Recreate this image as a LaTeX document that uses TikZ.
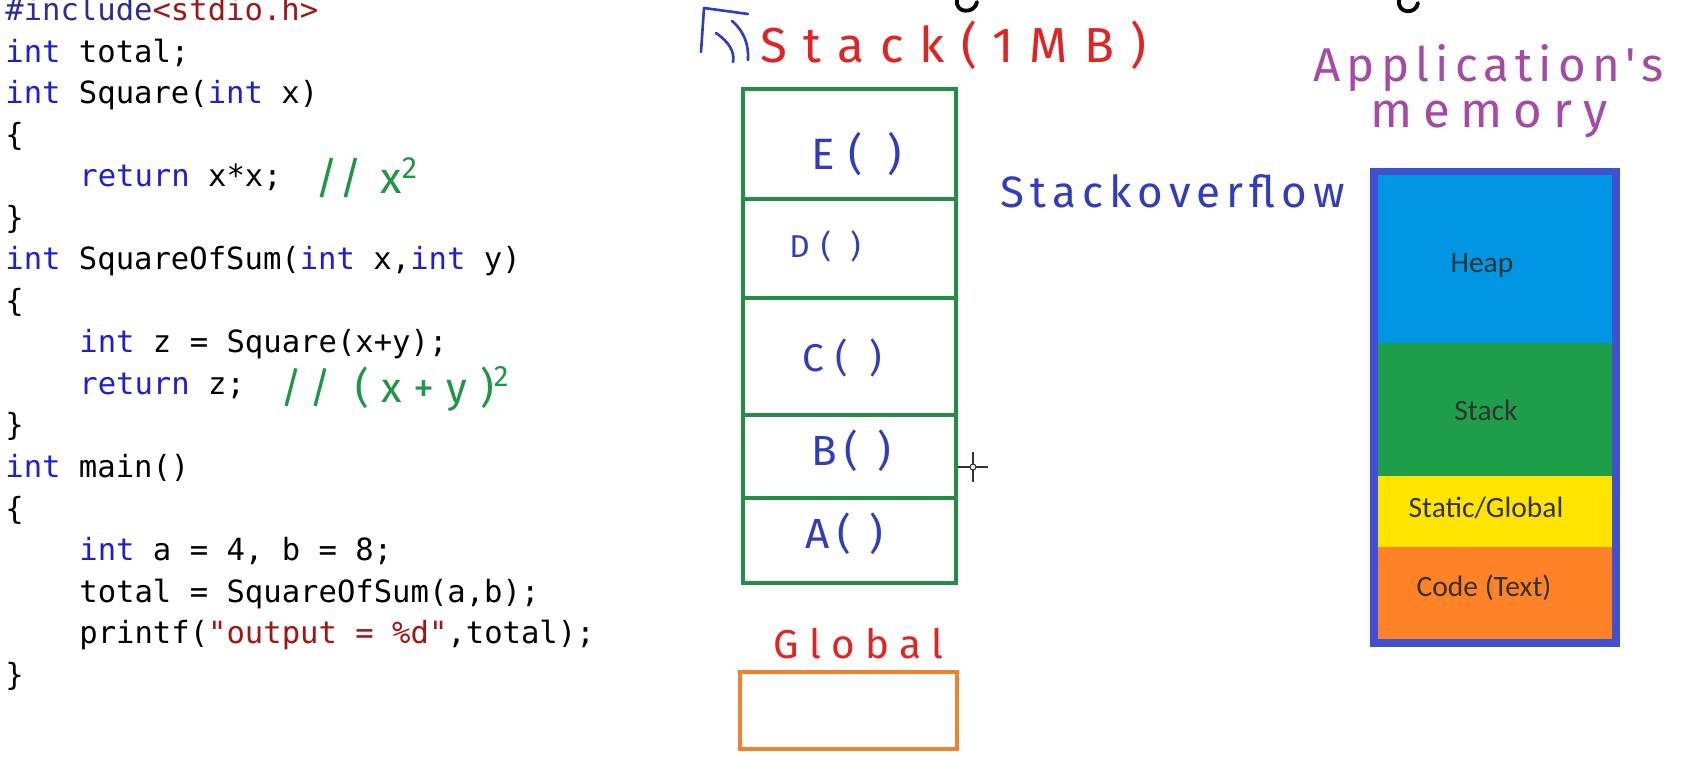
\documentclass[tikz,border=0pt]{standalone}
\usepackage{fontspec}
\setmonofont{DejaVu Sans Mono}
\newfontfamily\boxfont{Carlito}
\newfontfamily\handfont{Fira Sans}

\definecolor{kwblue}{RGB}{30,30,210}
\definecolor{preblue}{RGB}{45,45,150}
\definecolor{strred}{RGB}{163,21,21}
\definecolor{framegreen}{RGB}{35,140,70}
\definecolor{inkred}{RGB}{225,35,35}
\definecolor{inkblue}{RGB}{50,60,190}
\definecolor{inkgreen}{RGB}{30,150,70}
\definecolor{inkpurple}{RGB}{165,75,165}
\definecolor{globorange}{RGB}{240,130,45}
\definecolor{heapblue}{RGB}{0,150,228}
\definecolor{stackgreen}{RGB}{30,158,75}
\definecolor{staticyellow}{RGB}{255,228,0}
\definecolor{codeorange}{RGB}{255,130,38}
\definecolor{memborder}{RGB}{65,80,210}

\newcommand{\kw}[1]{\textcolor{kwblue}{#1}}
\newcommand{\strlit}[1]{\textcolor{strred}{#1}}
\newcommand{\hw}[2]{\handfont\addfontfeature{LetterSpace=#2}\fontsize{#1}{#1}\selectfont}

\begin{document}
\begin{tikzpicture}[x=0.02cm, y=-0.02cm,
    codeline/.style={anchor=base west, inner sep=0pt, font=\ttfamily\fontsize{17.4}{20}\selectfont},
    scrawl/.style={anchor=base west, inner sep=0pt},
    seglabel/.style={inner sep=0pt, font=\boxfont\fontsize{16.8}{20}\selectfont, text=black!80}]
  \useasboundingbox (0,0) rectangle (1695,770);

  % the C program
  \foreach \ind/\txt [count=\i] in {
      0/{\textcolor{preblue}{\#include}\strlit{<stdio.h>}},
      0/{\kw{int} total;},
      0/{\kw{int} Square(\kw{int} x)},
      0/\{,
      1/{\kw{return} x*x;},
      0/\},
      0/{\kw{int} SquareOfSum(\kw{int} x,\kw{int} y)},
      0/\{,
      1/{\kw{int} z = Square(x+y);},
      1/{\kw{return} z;},
      0/\},
      0/{\kw{int} main()},
      0/\{,
      1/{\kw{int} a = 4, b = 8;},
      1/{total = SquareOfSum(a,b);},
      1/{printf(\strlit{"output = \%d"},total);},
      0/\}}{
    \node[codeline] (line\i) at ({5+74*\ind},{21+41.5*(\i-1)}) {\txt};
  }
  \node[scrawl, text=inkgreen] (sqnote) at (315,194) {\hw{25}{15}// x\textsuperscript{2}};
  \node[scrawl, text=inkgreen] (sumnote) at (280,402) {\hw{24}{30}// (x+y)\textsuperscript{2}};

  % call stack
  \node[scrawl, text=inkred] (stacktitle) at (760,63) {\hw{28}{33}Stack(1MB)};
  \draw[inkblue, line width=1.5pt, line cap=round, line join=round]
    (701,52) -- (704,8) -- (748,14);
  \draw[inkblue, line width=1.5pt, line cap=round] (716,33) .. controls (729,42) and (735,52) .. (733,62);
  \draw[inkblue, line width=1.5pt, line cap=round] (732,21) .. controls (744,31) and (749,45) .. (748,60);
  \draw[framegreen, line width=2pt] (743,89) rectangle (956,583);
  \foreach \y in {199,298,415,498}
    \draw[framegreen, line width=2pt] (743,\y) -- (956,\y);
  \node[scrawl, text=inkblue] (fnE) at (811,170) {\hw{25}{30}E( )};
  \node[scrawl, text=inkblue] (fnD) at (789,258) {\hw{18}{35}D( )};
  \node[scrawl, text=inkblue] (fnC) at (802,372) {\hw{22}{30}C( )};
  \node[scrawl, text=inkblue] (fnB) at (811,465) {\hw{24}{18}B( )};
  \node[scrawl, text=inkblue] (fnA) at (805,548) {\hw{24}{18}A( )};
  \node[scrawl, text=inkred] (globtitle) at (773,658) {\hw{23}{26}Global};
  \draw[globorange, line width=2.2pt] (740,672) rectangle (957,749);
  \node[scrawl, text=inkblue] (overflow) at (1000,208) {\hw{25}{14}Stackoverflow};

  % cursor and cut-off strokes
  \draw[black!80, line width=0.8pt] (958,467) -- (988,467) (973,452) -- (973,482);
  \filldraw[fill=white, draw=black!80, line width=0.6pt] (973,467) circle (3);
  \draw[line width=2.2pt, line cap=round] (957,0) .. controls (955,14) and (975,14) .. (977,2);
  \draw[line width=2.2pt, line cap=round] (1399,0) .. controls (1397,14) and (1416,15) .. (1418,3);

  % application's memory
  \node[scrawl, text=inkpurple] (apptitle) at (1313,82) {\hw{27}{13}Application's};
  \node[scrawl, text=inkpurple] (memtitle) at (1370,128) {\hw{28}{22}memory};
  \fill[heapblue] (1371,168) rectangle (1619,343);
  \fill[stackgreen] (1371,343) rectangle (1619,476);
  \fill[staticyellow] (1371,476) rectangle (1619,547);
  \fill[codeorange] (1371,547) rectangle (1619,646);
  \draw[memborder, line width=4pt] (1374,171.5) rectangle (1616,643);
  \node[seglabel] (heap) at (1482,265) {Heap};
  \node[seglabel] (stackseg) at (1486,410) {Stack};
  \node[seglabel] (static) at (1486,508) {Static/Global};
  \node[seglabel] (codeseg) at (1484,588) {Code (Text)};
\end{tikzpicture}
\end{document}
